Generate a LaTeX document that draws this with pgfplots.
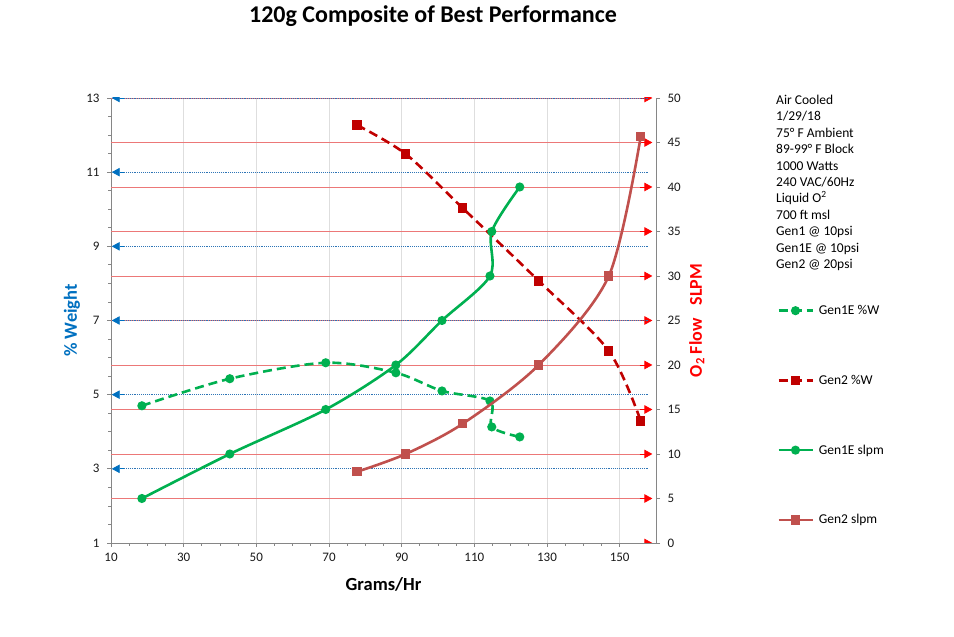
\documentclass[border=0pt]{standalone}
\usepackage{pgfplots}
\pgfplotsset{compat=1.18}
\usepackage{pgfplotstable}
\usepackage{fontspec}
\setmainfont{Carlito}
\usetikzlibrary{arrows.meta}

\definecolor{gone}{HTML}{00B050}
\definecolor{dred}{HTML}{C00000}
\definecolor{bred}{HTML}{C0504D}
\definecolor{gblue}{HTML}{2E75B6}
\definecolor{lblue}{HTML}{0070C0}
\definecolor{gridred}{RGB}{236,120,120}
\definecolor{axgray}{HTML}{868686}

% Gen1E %W (left axis)
\pgfplotstableread{
x y
18.5 4.70
42.7 5.43
69.1 5.86
88.4 5.59
101.1 5.10
114.3 4.83
114.8 4.13
122.5 3.86
}\genEw
% Gen2 %W (left axis)
\pgfplotstableread{
x y
77.7 12.27
91.1 11.49
106.8 10.03
127.7 8.07
147.0 6.18
155.8 4.29
}\gentw
% Gen1E slpm (right axis)
\pgfplotstableread{
x y
18.5 5.0
42.7 10.0
69.1 15.0
88.4 20.0
101.1 25.0
114.3 30.0
114.8 35.0
122.5 40.0
}\genEs
% Gen2 slpm (right axis)
\pgfplotstableread{
x y
77.7 8.0
91.1 10.0
106.8 13.4
127.7 20.0
147.0 30.0
155.8 45.7
}\gents

\pgfplotsset{
  common/.style={
    scale only axis, width=545bp, height=445bp,
    at={(111bp,94bp)}, anchor=south west,
    xmin=10, xmax=160,
    axis line style={axgray, line width=0.8bp},
    tick style={axgray, line width=0.8bp},
    tick align=outside, major tick length=4bp, minor tick length=3bp,
    ticklabel style={font=\fontsize{13bp}{15bp}\selectfont, text=black!90},
    /pgf/number format/assume math mode=true,
    legend image code/.code={\draw[mark repeat=2,mark phase=2,##1] plot coordinates {(0bp,0bp) (17bp,0bp) (34bp,0bp)};},
  },
  s1ew/.style={gone, line width=2.6bp, dash pattern=on 9bp off 5bp, smooth, mark=*, mark size=3.2bp, mark options={solid, fill=gone}},
  s2w/.style={dred, line width=2.6bp, dash pattern=on 9bp off 5bp, smooth, mark=square*, mark size=3.4bp, mark options={solid, fill=dred}},
  s1es/.style={gone, line width=2.6bp, smooth, mark=*, mark size=3.2bp, mark options={solid, fill=gone}},
  s2s/.style={bred, line width=2.6bp, smooth, mark=square*, mark size=3.4bp, mark options={solid, fill=bred}},
}

\begin{document}
\begin{tikzpicture}[x=1bp,y=1bp]
\useasboundingbox (0,0) rectangle (954,637);

\begin{axis}[common,
  ymin=1, ymax=13,
  xtick={10,30,...,150}, ytick={1,3,...,13},
  minor x tick num=3, minor y tick num=3,
  axis x line*=bottom, axis y line*=left,
  xmajorgrids, major x grid style={black!13, line width=0.8bp},
  xticklabel style={yshift=-3bp},
  yticklabel style={xshift=-4bp},
  xlabel={Grams/Hr}, ylabel={\% Weight},
  xlabel style={font=\bfseries\fontsize{18.5bp}{20bp}\selectfont, at={(axis description cs:0.5,-0.094)}, anchor=center},
  ylabel style={font=\bfseries\fontsize{18.5bp}{20bp}\selectfont, text=lblue, at={(axis description cs:-0.0716,0.5)}, anchor=center},
]
\pgfplotsinvokeforeach{1,2.2,3.4,4.6,5.8,7,8.2,9.4,10.6,11.8,13}{
  \draw[gridred, line width=0.8bp] (axis cs:10,#1) -- (axis cs:158,#1);
  \draw[red, line width=0.8bp, -{Triangle[length=8bp,width=8.5bp]}] (axis cs:155.5,#1) -- (axis cs:159,#1);
}
\pgfplotsinvokeforeach{3,5,7,9,11,13}{
  \draw[gblue, densely dotted, line width=0.9bp] (axis cs:11.5,#1) -- (axis cs:158,#1);
  \draw[lblue, line width=0.8bp, -{Triangle[length=8bp,width=8.5bp]}] (axis cs:13.5,#1) -- (axis cs:10.2,#1);
}
\addplot[s1ew] table {\genEw};
\addplot[s2w] table {\gentw};
\end{axis}

\begin{axis}[common,
  ymin=0, ymax=50,
  ytick={0,5,...,50},
  axis y line*=right, axis x line=none,
  yticklabel style={xshift=4bp},
  ylabel={O\textsubscript{2} Flow\hspace{13bp}SLPM},
  ylabel style={font=\bfseries\fontsize{18bp}{20bp}\selectfont, text=red, at={(axis description cs:1.075,0.5)}, anchor=center, rotate=0},
  legend style={at={(axis description cs:1.222,0.539)}, anchor=north west, draw=none, fill=none,
    font=\fontsize{13.5bp}{15bp}\selectfont, row sep=55bp, inner sep=0pt,
    /tikz/every odd column/.append style={column sep=3bp}},
  legend cell align=left,
]
\addlegendimage{s1ew}\addlegendentry{Gen1E \%W}
\addlegendimage{s2w}\addlegendentry{Gen2 \%W}
\addplot[s1es] table {\genEs};\addlegendentry{Gen1E slpm}
\addplot[s2s] table {\gents};\addlegendentry{Gen2 slpm}
\end{axis}

\node[font=\bfseries\fontsize{24bp}{26bp}\selectfont] at (433,621) {120g Composite of Best Performance};
\node[anchor=north west, align=left, inner sep=0pt, font=\fontsize{13.5bp}{16.4bp}\selectfont] at (776,542)
 {Air Cooled\\1/29/18\\75° F Ambient\\89-99° F Block\\1000 Watts\\240 VAC/60Hz\\Liquid O\textsuperscript{2}\\700 ft msl\\Gen1 @ 10psi\\Gen1E @ 10psi\\Gen2 @ 20psi};
\end{tikzpicture}
\end{document}
